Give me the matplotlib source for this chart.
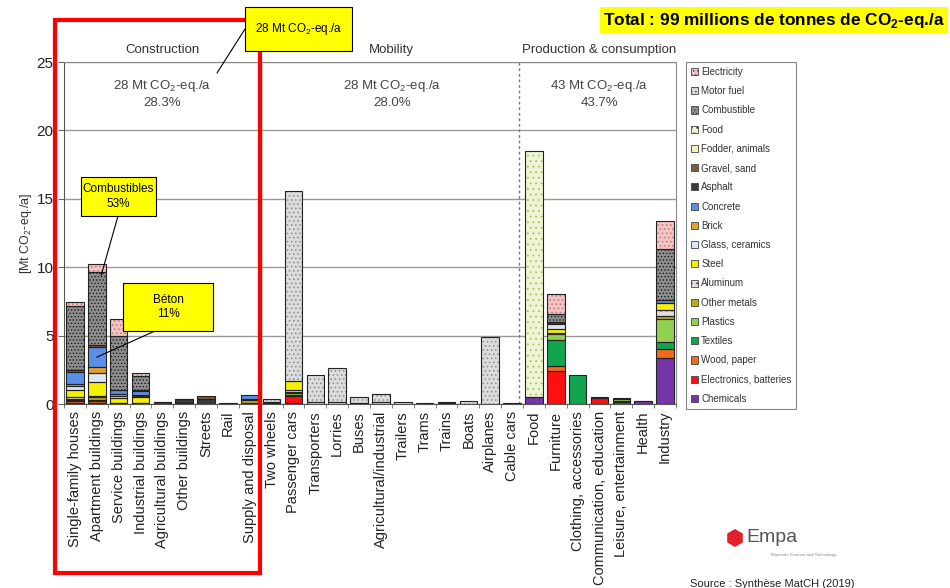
import numpy as np
import matplotlib.pyplot as plt
from matplotlib.patches import Patch, Rectangle, RegularPolygon, ConnectionPatch

plt.rcParams['font.family'] = ['Liberation Sans', 'DejaVu Sans']
plt.rcParams['mathtext.fontset'] = 'custom'
plt.rcParams['mathtext.rm'] = 'Liberation Sans'
plt.rcParams['mathtext.bf'] = 'Liberation Sans:bold'
plt.rcParams['hatch.linewidth'] = 0.6

# Categories, grouped by sector
categories = ['Single-family houses', 'Apartment buildings', 'Service buildings',
              'Industrial buildings', 'Agricultural buildings', 'Other buildings',
              'Streets', 'Rail', 'Supply and disposal',
              'Two wheels', 'Passenger cars', 'Transporters', 'Lorries', 'Buses',
              'Agricultural/industrial', 'Trailers', 'Trams', 'Trains', 'Boats',
              'Airplanes', 'Cable cars',
              'Food', 'Furniture', 'Clothing, accessories', 'Communication, education',
              'Leisure, entertainment', 'Health', 'Industry']
groups = ['Construction', 'Mobility', 'Production & consumption']
group_sizes = [9, 12, 7]
group_totals = ['28', '28', '43']
group_shares = ['28.3%', '28.0%', '43.7%']

# Emissions per material, Mt CO2-eq./a (construction | mobility | production)
electricity  = [0.3, 0.55, 1.2, 0.25, 0, 0, 0, 0, 0] + [0, 0, 0, 0, 0, 0, 0, 0.05, 0.05, 0, 0, 0.03] + [0, 1.45, 0, 0, 0, 0, 2.0]
motor_fuel   = [0] * 9 + [0.25, 13.85, 1.95, 2.5, 0.4, 0.6, 0, 0, 0, 0.2, 4.9, 0] + [0] * 7
combustible  = [4.7, 5.35, 3.95, 1.05, 0, 0, 0, 0, 0] + [0] * 12 + [0, 0.63, 0, 0, 0, 0, 3.73]
food         = [0] * 9 + [0] * 12 + [18.0, 0, 0, 0, 0, 0, 0]
fodder       = [0] * 28
gravel       = [0.1, 0.15, 0.05, 0.05, 0.03, 0.05, 0.15, 0.03, 0] + [0] * 12 + [0] * 7
asphalt      = [0, 0, 0, 0, 0.1, 0.3, 0.4, 0, 0] + [0] * 12 + [0, 0.12, 0, 0, 0, 0, 0]
concrete     = [0.9, 1.45, 0.3, 0.3, 0, 0, 0, 0, 0.25] + [0] * 12 + [0, 0, 0, 0, 0, 0, 0.24]
brick        = [0.17, 0.4, 0.1, 0.05, 0, 0, 0, 0, 0] + [0] * 12 + [0] * 7
glass        = [0.25, 0.7, 0.15, 0.1, 0, 0, 0, 0.03, 0] + [0] * 12 + [0, 0.37, 0, 0, 0, 0, 0]
steel        = [0.55, 1.0, 0.35, 0.4, 0.02, 0.05, 0, 0, 0.1] + [0.1, 0.7, 0.15, 0.15, 0.08, 0.15, 0.15, 0, 0.1, 0, 0, 0.02] + [0, 0.25, 0, 0, 0.1, 0.05, 0.54]
aluminum     = [0.1, 0.1, 0, 0, 0, 0, 0, 0, 0] + [0, 0.1] + [0] * 10 + [0, 0, 0, 0, 0, 0, 0.39]
other_metals = [0.1, 0.2, 0, 0, 0, 0, 0, 0, 0.2] + [0, 0.1] + [0] * 10 + [0, 0.12, 0, 0, 0, 0, 0.22]
plastics     = [0.1, 0.1, 0.05, 0.05, 0, 0, 0, 0, 0.1] + [0.05, 0.15] + [0] * 10 + [0, 0.4, 0, 0, 0.1, 0, 1.73]
textiles     = [0] * 9 + [0, 0.1] + [0] * 10 + [0, 1.9, 2.1, 0, 0.1, 0, 0.49]
wood         = [0.15, 0.15, 0.05, 0.05, 0, 0, 0, 0, 0] + [0] * 12 + [0, 0.4, 0, 0.05, 0, 0, 0.66]
electronics  = [0] * 9 + [0, 0.45] + [0] * 10 + [0, 2.4, 0, 0.45, 0.15, 0, 0]
chemicals    = [0.05, 0.05, 0, 0, 0, 0, 0, 0, 0] + [0, 0.1] + [0] * 10 + [0.5, 0, 0, 0, 0, 0.2, 3.36]

# (label, values, face colour, hatch, hatch colour) in legend order, top of stack first
series = [
    ('Electricity', electricity, '#f6c3c4', '....', '#b07878'),
    ('Motor fuel', motor_fuel, '#dcdcdc', '....', '#8a8a8a'),
    ('Combustible', combustible, '#8e8e8e', '.....', '#1a1a1a'),
    ('Food', food, '#eef5d2', '...', '#a8c070'),
    ('Fodder, animals', fodder, '#f2efc8', None, None),
    ('Gravel, sand', gravel, '#7a5c34', None, None),
    ('Asphalt', asphalt, '#3a3a3a', None, None),
    ('Concrete', concrete, '#5b8ee6', None, None),
    ('Brick', brick, '#e0a22c', None, None),
    ('Glass, ceramics', glass, '#dde6f2', None, None),
    ('Steel', steel, '#f5f000', None, None),
    ('Aluminum', aluminum, '#e6dede', '...', '#a09090'),
    ('Other metals', other_metals, '#c2a81c', None, None),
    ('Plastics', plastics, '#92d050', None, None),
    ('Textiles', textiles, '#12a550', None, None),
    ('Wood, paper', wood, '#ee6a1c', None, None),
    ('Electronics, batteries', electronics, '#ff1010', None, None),
    ('Chemicals', chemicals, '#7535a8', None, None),
]

W, H = 950, 588
fig = plt.figure(figsize=(W / 100, H / 100), dpi=100)
ax = fig.add_axes([64 / W, 1 - 404 / H, 612 / W, 342 / H])


def fpos(px, py):
    # pixel position (from top-left) to figure fraction
    return px / W, 1 - py / H


x = np.arange(len(categories))
bottom = np.zeros(len(categories))
for label, vals, fc, hatch, hc in reversed(series):
    vals = np.array(vals, dtype=float)
    m = vals > 0
    if m.any():
        ax.bar(x[m], vals[m], 0.8, bottom=bottom[m], color=fc, hatch=hatch,
               edgecolor=hc if hc else fc, linewidth=0, zorder=2)
        ax.bar(x[m], vals[m], 0.8, bottom=bottom[m], fill=False,
               edgecolor='#222222', linewidth=0.8, zorder=3)
    bottom += vals

ax.set_xlim(-0.5, len(categories) - 0.5)
ax.set_ylim(0, 25)
ax.set_yticks(range(0, 26, 5))
ax.tick_params(axis='y', labelsize=11, labelcolor='#222222', length=4, color='#666666')
ax.yaxis.grid(True, color='#9a9a9a', linewidth=1)
ax.set_axisbelow(True)
ax.set_xticks(x)
ax.set_xticklabels(categories, rotation=90, fontsize=10.5, color='#222222')
ax.set_xticks(np.arange(-0.5, len(categories), 1), minor=True)
ax.tick_params(axis='x', which='major', length=0, pad=5)
ax.tick_params(axis='x', which='minor', length=3, color='#666666')
for side in ['top', 'right']:
    ax.spines[side].set_color('#8a8a8a')
for side in ['left', 'bottom']:
    ax.spines[side].set_color('#555555')
ax.set_ylabel('[Mt CO$_2$-eq./a]', fontsize=9, color='#333333', labelpad=2)

# sector separators and headers
edges = np.cumsum(group_sizes)
ax.axvline(edges[0] - 0.5, color='#555555', linewidth=1, zorder=1)
ax.axvline(edges[1] - 0.7, color='#777777', linewidth=1, linestyle=(0, (2, 2)), zorder=1)
start = 0
for name, n, tot, share in zip(groups, group_sizes, group_totals, group_shares):
    cx = start + (n - 1) / 2
    ax.text(cx, 25.9, name, ha='center', va='center', fontsize=9.5, color='#333333', clip_on=False)
    ax.text(cx, 22.7, f'{tot} Mt CO$_2$-eq./a\n{share}', ha='center', va='center',
            fontsize=9.5, color='#444444', linespacing=1.25)
    start += n

# legend box beside the plot
handles = [Patch(facecolor=fc, hatch=h, edgecolor='#444444', linewidth=0.6) for _, _, fc, h, _ in series]
leg = fig.legend(handles, [s[0] for s in series], loc='upper left',
                 bbox_to_anchor=fpos(686, 62), frameon=True, fancybox=False,
                 edgecolor='#666666', fontsize=7, handlelength=0.75, handleheight=0.75,
                 handletextpad=0.3, labelspacing=0.95, borderpad=0.5, borderaxespad=0)
leg.get_frame().set_linewidth(0.8)
for t in leg.get_texts():
    t.set_color('#333333')

# red frame around the construction sector
fig.add_artist(Rectangle(fpos(55, 573), 205 / W, 553 / H, fill=False,
                         edgecolor='#ff0000', linewidth=3, zorder=5))


def callout(text, box, start, xy):
    # yellow box given as (left, top, right, bottom) pixels, leader line to a data point
    l, t, r, b = box
    line = ConnectionPatch(fpos(*start), xy, coordsA='figure fraction', coordsB=ax.transData,
                           color='black', linewidth=0.8, zorder=6)
    fig.add_artist(line)
    fig.add_artist(Rectangle(fpos(l, b), (r - l) / W, (b - t) / H, facecolor='#ffff00',
                             edgecolor='black', linewidth=0.8, zorder=7))
    fig.text(*fpos((l + r) / 2, (t + b) / 2), text, ha='center', va='center',
             fontsize=8.5, color='black', linespacing=1.3, zorder=8)


apt_concrete_mid = np.sum([s[1][1] for s in series[8:]]) + concrete[1] / 2
callout('Béton\n11%', (123, 283, 213, 331), (155, 331), (1, apt_concrete_mid))
callout('Combustibles\n53%', (81, 177, 156, 216), (118, 216), (1.2, 9.4))
callout('28 Mt CO$_2$-eq./a', (245, 7, 352, 51), (245, 29), (6.5, 24.2))

fig.text(*fpos(945, 20), r'Total : 99 millions de tonnes de CO$_\mathbf{2}$-eq./a',
         ha='right', va='center', fontsize=12.4, fontweight='bold',
         bbox=dict(boxstyle='square,pad=0.2', facecolor='#ffff00', edgecolor='none'))

# Empa logo and source
logo = fig.add_axes([726 / W, 1 - 547 / H, 18 / W, 18 / H])
logo.add_patch(RegularPolygon((0, 0), numVertices=6, radius=1, color='#e0202a'))
logo.set_xlim(-1.1, 1.1)
logo.set_ylim(-1.1, 1.1)
logo.set_aspect('equal')
logo.axis('off')
fig.text(*fpos(746, 538), 'Empa', fontsize=14, color='#555555', va='center')
fig.text(*fpos(771, 555), 'Materials Science and Technology', fontsize=3.2,
         color='#888888', va='center')
fig.text(*fpos(690, 584), 'Source : Synthèse MatCH (2019)', fontsize=8,
         color='#222222', va='center')

fig.savefig('out.png', dpi=100)
